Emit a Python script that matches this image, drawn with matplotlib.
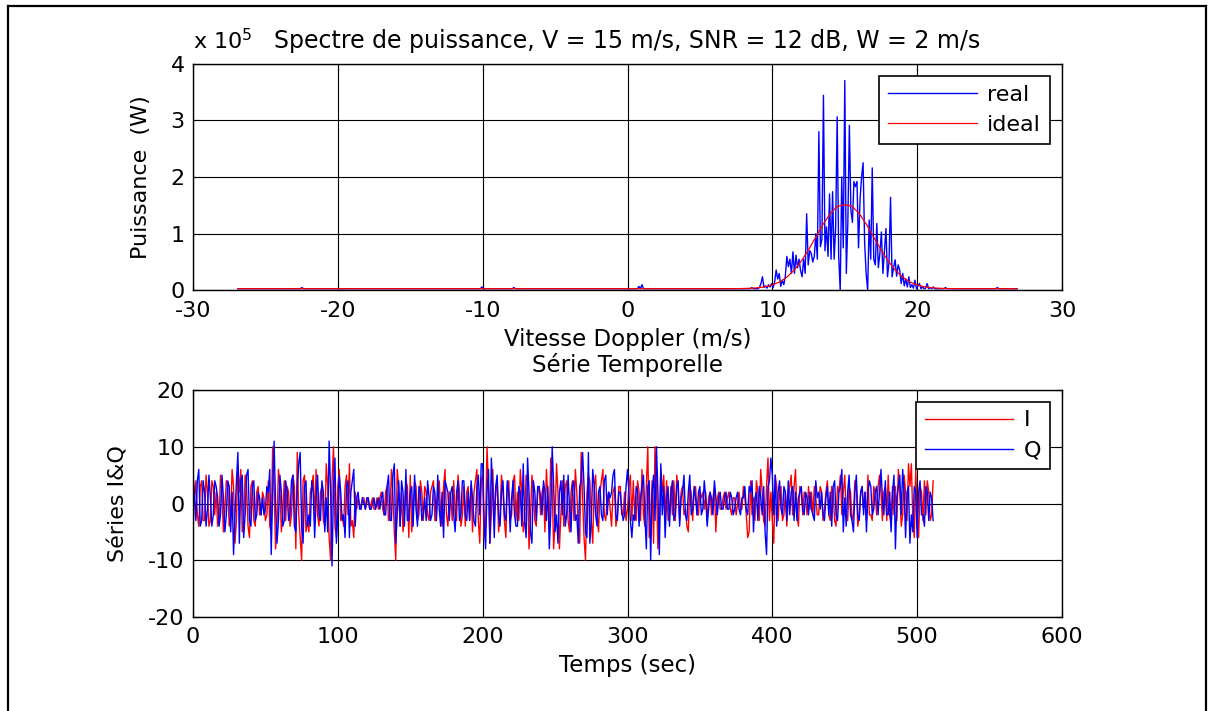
import numpy as np
import matplotlib
matplotlib.use("Agg")
import matplotlib.pyplot as plt
from matplotlib.lines import Line2D

# ---------------- data ----------------
# Power spectrum (units of 1e5 W) on a 512-bin Doppler velocity grid
vel_min, vel_max, n_bins = -26.9, 26.9, 512
noise_floor = 0.03
peak_start_vel = 9.0
peak_vals = [0.03, 0.05, 0.12, 0.24, 0.05, 0.08, 0.04, 0.10, 0.06, 0.12,
             0.05, 0.15, 0.36, 0.20, 0.30, 0.07, 0.18, 0.10, 0.25, 0.60,
             0.42, 0.55, 0.30, 0.68, 0.30, 0.62, 0.40, 0.55, 0.35, 0.24,
             0.55, 0.30, 1.35, 0.45, 0.70, 0.65, 0.50, 0.60, 1.00, 0.55,
             2.80, 0.77, 0.90, 3.44, 0.70, 1.12, 0.60, 1.70, 0.55, 1.74,
             0.55, 1.10, 3.06, 0.60, 0.00, 2.00, 0.75, 3.70, 0.30, 1.20,
             2.91, 1.42, 1.20, 1.92, 1.83, 1.92, 0.75, 1.60, 2.00, 2.25,
             0.85, 0.30, 0.00, 1.24, 0.55, 2.16, 0.55, 0.45, 1.18, 0.40,
             0.65, 1.03, 0.30, 0.70, 1.09, 0.24, 0.50, 1.64, 0.24, 0.40,
             0.54, 0.25, 0.45, 0.36, 0.12, 0.30, 0.08, 0.20, 0.06, 0.24,
             0.05, 0.10, 0.04, 0.18, 0.03, 0.08, 0.12, 0.03, 0.06, 0.03,
             0.04, 0.12, 0.03, 0.05, 0.03, 0.06, 0.03]
bump_vels = [-22.5, -10.1, -7.85, 0.8, 1.0, 8.6, 21.9, 25.5]
bump_vals = [0.05, 0.06, 0.05, 0.07, 0.10, 0.05, 0.05, 0.05]

ideal_vel = [-26.9, 7.0, 7.5, 8.0, 8.5, 9.0, 9.5, 10.0, 10.5, 11.0, 11.5,
             12.0, 12.5, 13.0, 13.5, 14.0, 14.5, 15.0, 15.5, 16.0, 16.5,
             17.0, 17.5, 18.0, 18.5, 19.0, 19.5, 20.0, 20.5, 21.0, 21.5,
             22.0, 22.5, 23.0, 26.9]
ideal_pow = [0.03, 0.03, 0.031, 0.033, 0.038, 0.047, 0.064, 0.096, 0.149,
             0.233, 0.355, 0.517, 0.717, 0.94, 1.163, 1.354, 1.484, 1.51,
             1.484, 1.354, 1.163, 0.94, 0.717, 0.517, 0.355, 0.233, 0.149,
             0.096, 0.064, 0.047, 0.038, 0.033, 0.031, 0.03, 0.03]

# Time series (I = red, Q = blue), one sample per second
I_series = [
    -5, 1, 4, -2, -4, 3, 4, -3, -3, 5, 2, -4, -3, 4, 3, -2,
    2, -4, -3, 5, 2, -5, -1, 4, 3, -4, -2, 6, 3, -7, -3, 7,
    2, 6, -5, -3, 5, 3, -4, -6, 3, 4, -3, -4, 2, 3, -2, -2,
    2, 1, -3, -2, 4, -4, -5, 10, 3, -8, -4, 6, 3, -5, -2, 4,
    -3, 3, 2, -4, -2, 5, 3, -8, 9, -2, -6, -10, 4, 5, -5, -3,
    -5, 2, 3, 5, -3, 6, -2, -4, 2, 3, -3, -4, 7, 3, -6, -10,
    4, 10, -4, -6, 3, 6, -3, -2, -4, 3, 5, -2, 7, -4, -3, -6,
    2, -1, 1, 0, -1, 1, 1, -1, 0, 1, -1, 0, 1, -1, -1, 1,
    -1, 1, 2, -1, -2, 2, 3, -3, -2, 6, 2, -5, -10, 6, 3, -4,
    2, -5, -2, 4, 3, -6, 5, -5, -2, 4, 3, -3, -2, 4, 2, -3,
    3, 2, -2, -3, 2, 3, 4, -3, -3, 2, 4, -2, -4, 3, 6, -2,
    -4, 2, 1, -3, 4, -2, -3, 5, 2, -4, -2, 3, -4, 2, 3, -3,
    3, -5, 2, 4, 6, -3, -7, 4, 5, -6, -4, 10, 3, -7, -2, 6,
    -3, 2, 4, -5, -2, 5, 2, -3, -6, 3, 4, -3, -2, 4, 5, -3,
    2, -3, 6, 2, -5, -3, 5, 4, -8, -3, 5, 2, -3, -4, 2, 3,
    -2, 2, 3, -5, 6, 1, -4, 8, 3, -8, -3, 7, 2, -8, -2, 4,
    -4, 3, 4, -3, -5, 2, 4, -3, 6, 2, -4, -7, 9, 1, -6, -10,
    2, 5, 4, -3, -7, 3, 5, -2, -5, 2, 4, 6, -2, -3, 1, 2,
    -1, -4, 2, 3, -4, -2, 3, 3, -2, -2, 2, -3, -1, 3, 5, -3,
    4, -2, -3, 4, 2, -3, 6, -2, -4, 3, 10, -6, -4, 4, -7, 10,
    3, -8, -4, 6, 2, 5, -3, 4, -3, -2, 3, -2, 4, -3, 5, 2,
    -3, 2, 3, -2, -1, -4, -5, 3, 2, -3, 2, 3, -2, -2, 2, 1,
    2, -1, 2, -3, 1, 2, -2, 1, 3, -5, 1, 2, -1, -1, 1, 2,
    -1, 1, 2, -1, -2, 1, 1, -2, 0, 2, -1, -1, 3, 1, -2, -6,
    -5, 4, -2, 1, -3, 4, 2, -3, 6, 2, -3, -4, 3, 8, -3, 2,
    -3, -7, 5, 3, -3, 2, 3, -3, -2, 2, -4, 1, 3, 5, -2, 3,
    6, -2, -4, 3, 2, -2, 2, 1, -2, 3, -1, 2, -2, 3, 1, -2,
    -2, 3, 2, -3, -1, 2, 4, -2, -3, 3, 2, -3, -4, 3, 2, 5,
    -2, 2, 5, -2, -3, 3, 2, -3, -2, 4, 3, -4, -2, 2, 3, -1,
    2, -3, 5, -2, -2, -3, 3, 2, -2, 3, 5, 2, -3, 2, 3, -3,
    5, -2, -4, 3, -2, 3, -3, 6, 2, -4, -2, 5, 2, -3, 7, 3,
    7, -3, -6, 6, -2, -6, 3, 2, -3, 4, -2, 4, 2, -3, -2, 4,
]
Q_series = [
    5, 2, -3, 4, 6, -4, -3, 4, 2, -4, -1, 5, 1, -4, -2, 4,
    3, 1, -4, -2, 5, 1, -5, -2, 4, 3, -5, 2, -9, -2, 4, 9,
    -7, 4, 5, -6, -2, 5, 6, -3, -4, 3, 4, -3, -2, 2, 1, -2,
    1, -2, -1, 3, 2, 6, -9, 2, 11, 0, -7, -3, 5, 2, -4, -3,
    4, 2, -3, -2, 4, 5, -4, -5, 3, 7, 9, -4, -7, 3, 4, -4,
    -2, -4, 4, 2, -6, 1, 5, -2, -3, 4, 2, -5, 1, -5, 11, 2,
    -11, 3, 8, -7, -2, 5, 2, -3, -2, -6, 3, 4, -6, 2, 4, 6,
    -4, 1, 2, -1, -1, 1, 0, -1, 1, 1, -1, -1, 0, 1, -1, 0,
    1, -1, 1, 2, -2, -2, 3, 5, -3, -3, 5, 7, -7, -2, 4, -4,
    4, 2, -4, 6, -3, -3, 2, 3, -4, 5, -1, -4, 3, 2, -3, -2,
    1, -3, 4, 1, -3, -2, 3, 2, -3, 5, -1, -4, 2, -6, 4, 3,
    2, -3, 2, 3, -2, -5, 2, 4, -3, -2, 4, 4, -2, -3, 2, -3,
    4, 1, -3, -4, 3, 5, -2, 7, 7, -3, -8, 2, 6, -7, 8, 2,
    -6, 3, 5, -2, -4, 2, 4, -2, -3, 4, 2, -5, 1, 4, -2, -4,
    -4, 3, 2, -4, 7, -3, -6, 8, 2, -5, -7, 4, 2, -3, 3, 3,
    1, -2, 4, 2, -3, 3, -8, -2, 10, 3, -5, -2, -7, 2, 4, -2,
    5, -4, -2, 5, -1, -5, 3, 4, -3, -2, -7, 3, 4, 9, 3, -5,
    -6, 9, -7, -3, 6, 3, -2, -4, 2, 3, -2, -3, 4, 5, -2, 2,
    1, 2, 5, 6, -2, -3, 2, 2, -1, -3, -2, 3, 6, 2, -3, -6,
    -2, -3, 3, 2, -4, 1, 3, 5, -2, -8, 3, 4, -10, 2, 5, -3,
    10, 2, -9, 7, -2, 3, -6, 1, 3, -4, 2, 4, -3, -2, 3, 4,
    -4, 1, 2, 5, -2, -3, 2, 5, -2, -1, 3, 1, -2, 2, 3, -2,
    -1, 4, 1, -4, -1, 2, 1, -2, 4, 1, -2, 1, 2, -1, -1, 1,
    2, -1, -1, 2, 1, -2, -1, 1, 2, -1, -2, 1, 1, 3, -1, -2,
    3, 2, 4, -5, 1, 2, -3, 3, 1, -2, 3, -5, -9, 3, 4, 8,
    5, -2, 5, -4, 2, 4, -1, -2, 3, 2, -3, 4, -2, 2, 3, -3,
    2, -3, 1, 2, 3, -1, -2, 2, 1, -2, 2, -1, -2, -3, 4, 1,
    2, -1, 2, -2, -3, 1, 3, -2, 2, -4, 3, 4, -2, -3, 2, 3,
    6, -5, 1, -4, 2, 5, -2, -3, -5, 2, 5, -2, -3, 2, 3, -2,
    2, -5, 2, 4, 3, -2, -1, 2, 3, -2, 2, 6, 1, -2, 4, -2,
    -2, 2, -5, 2, 5, -8, 1, 3, 5, -2, 6, 2, -6, 2, 3, -7,
    -2, -5, 3, 2, -6, 2, 4, -2, -2, -4, 3, 2, -3, 2, 1, -3,
]

top_title = "Spectre de puissance, V = 15 m/s, SNR = 12 dB, W = 2 m/s"
bottom_title = "Série Temporelle"

# ---------------- figure ----------------
plt.rcParams["font.family"] = ["DejaVu Sans"]
plt.rcParams["font.size"] = 16
plt.rcParams["axes.titlesize"] = 16
plt.rcParams["axes.unicode_minus"] = False
plt.rcParams["mathtext.default"] = "regular"

W, H = 1210, 711
fig = plt.figure(figsize=(W / 100, H / 100), dpi=100)
fig.patch.set_facecolor("white")

def fx(px):
    return px / W

def fy(py):
    return 1 - py / H

ax1 = fig.add_axes([fx(193), fy(290.4), fx(1062) - fx(193), fy(63.5) - fy(290.4)])
ax2 = fig.add_axes([fx(193), fy(617), fx(1062) - fx(193), fy(390) - fy(617)])

# spectrum
v = np.linspace(vel_min, vel_max, n_bins)
real = np.full(n_bins, noise_floor)
i0 = int(np.searchsorted(v, peak_start_vel))
real[i0:i0 + len(peak_vals)] = peak_vals
for bv, bp in zip(bump_vels, bump_vals):
    real[int(np.argmin(np.abs(v - bv)))] = bp

ax1.plot(v, real, color="#0000FF", lw=1.0, label="real")
ax1.plot(ideal_vel, ideal_pow, color="#FF0000", lw=0.9, label="ideal")
ax1.set_xlim(-30, 30)
ax1.set_ylim(0, 4)
ax1.set_xticks([-30, -20, -10, 0, 10, 20, 30])
ax1.set_yticks([0, 1, 2, 3, 4])
ax1.set_xlabel("Vitesse Doppler (m/s)", labelpad=5, fontsize=16.5)
ax1.set_ylabel("Puissance  (W)", labelpad=14)
ax1.set_title(top_title, pad=11.5, fontsize=17)
ax1.text(0.0, 1.045, r"x 10$^{5}$", transform=ax1.transAxes, ha="left",
         va="bottom", fontsize=16)

# time series
t = np.arange(len(I_series))
ax2.plot(t, I_series, color="#FF0000", lw=1.0, label="I")
ax2.plot(np.arange(len(Q_series)), Q_series, color="#0000FF", lw=1.0, label="Q")
ax2.set_xlim(0, 600)
ax2.set_ylim(-20, 20)
ax2.set_xticks([0, 100, 200, 300, 400, 500, 600])
ax2.set_yticks([-20, -10, 0, 10, 20])
ax2.set_xlabel("Temps (sec)", labelpad=5, fontsize=16.5)
ax2.set_ylabel("Séries I&Q", labelpad=14)
ax2.set_title(bottom_title, pad=13, fontsize=16.5)

for ax in (ax1, ax2):
    ax.grid(True, color="black", lw=0.8, ls="-")
    ax.set_axisbelow(True)
    ax.tick_params(direction="in", top=True, right=True, length=5, width=0.8)
    ax.tick_params(axis="x", pad=7.5)
    ax.tick_params(axis="y", pad=6)
    for s in ax.spines.values():
        s.set_linewidth(1.0)
        s.set_color("black")

leg_kw = dict(loc="upper right", fancybox=False, framealpha=1, edgecolor="black",
              handlelength=4.0, handletextpad=0.45, labelspacing=0.45,
              borderpad=0.4, borderaxespad=0.0, fontsize=16)
l1 = ax1.legend(bbox_to_anchor=(0.986, 0.945), **leg_kw)
l1.get_frame().set_linewidth(1.2)
l2 = ax2.legend(bbox_to_anchor=(0.986, 0.949), **leg_kw)
l2.get_frame().set_linewidth(1.2)

# outer frame
for xs, ys in [((fx(8), fx(8)), (0, fy(6))),
               ((fx(8), fx(1206)), (fy(6), fy(6))),
               ((fx(1206), fx(1206)), (fy(6), 0))]:
    fig.add_artist(Line2D(xs, ys, color="black", lw=1.6, transform=fig.transFigure))

fig.savefig("out.png", dpi=100)
